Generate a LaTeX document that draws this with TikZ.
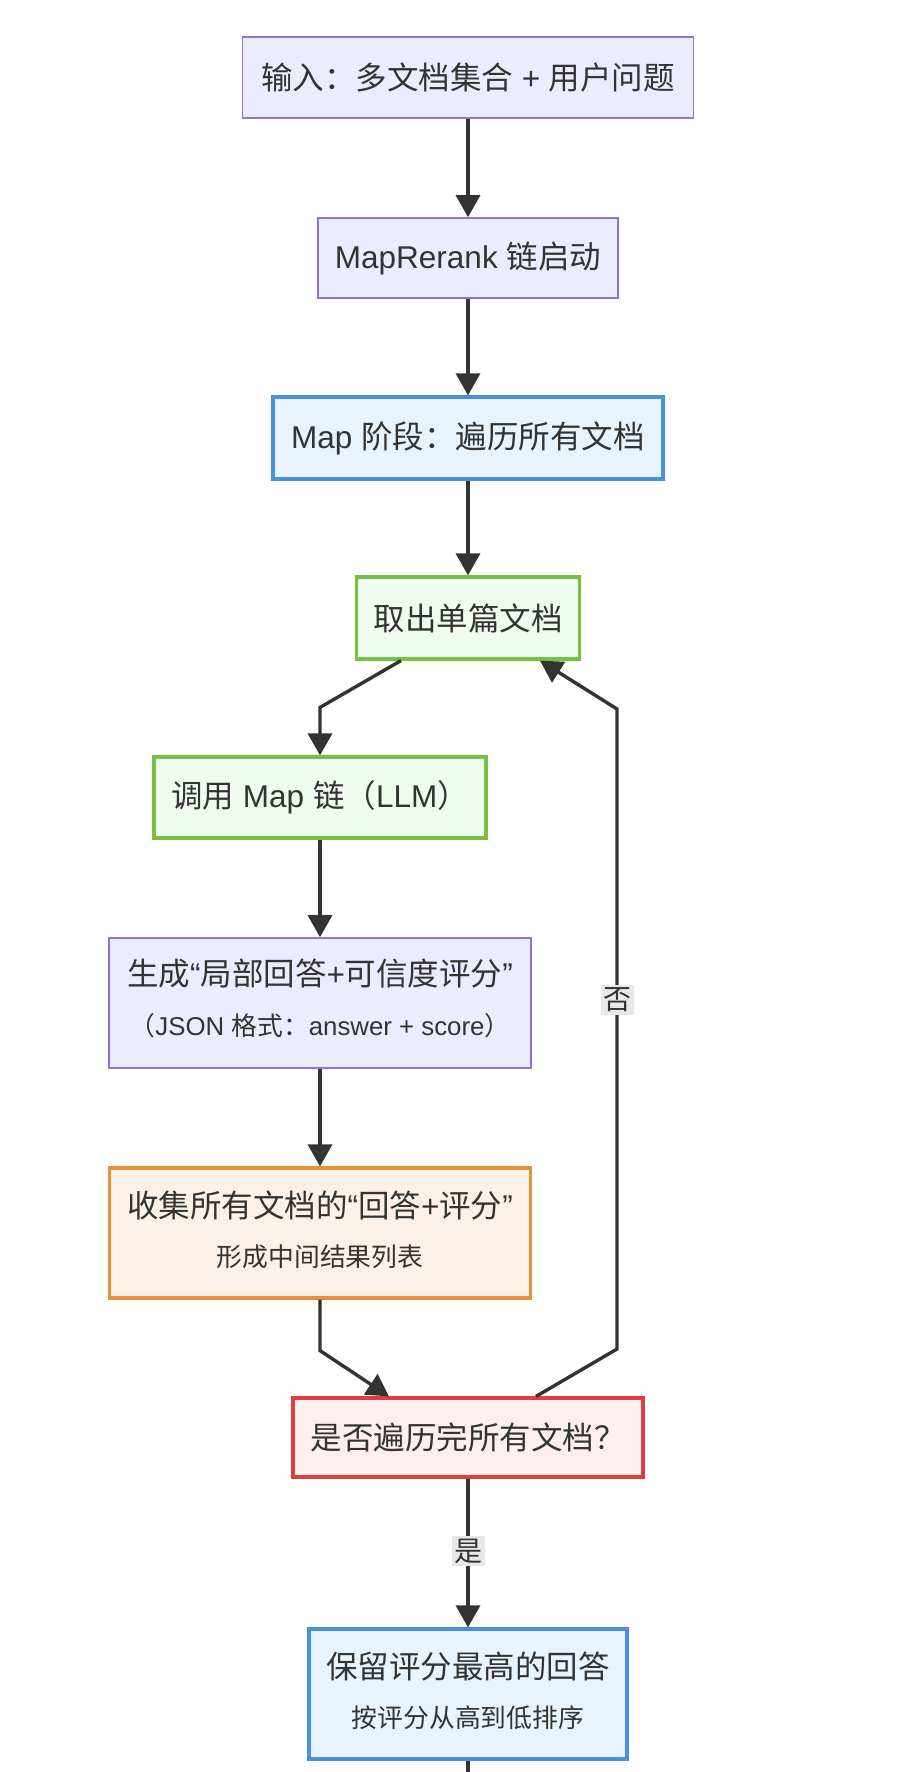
\documentclass[tikz,border=0pt]{standalone}
\usepackage{fontspec}
\setmainfont{Noto Sans CJK SC}
\newfontfamily\lat{Liberation Sans}
\usetikzlibrary{arrows.meta,calc}
\definecolor{txt}{HTML}{333333}
\definecolor{lc}{HTML}{333333}
\definecolor{pfill}{HTML}{ECECFF}
\definecolor{pdraw}{HTML}{9370DB}
\definecolor{bfill}{HTML}{E8F4FD}
\definecolor{bdraw}{HTML}{4A90E2}
\definecolor{gfill}{HTML}{F1FCF1}
\definecolor{gdraw}{HTML}{76C043}
\definecolor{ofill}{HTML}{FCF1E8}
\definecolor{odraw}{HTML}{E8903A}
\definecolor{rfill}{HTML}{FDEFEF}
\definecolor{rdraw}{HTML}{E23C3C}
\definecolor{lblfill}{HTML}{E8E8E8}
\tikzset{
  box/.style={draw, rectangle, inner sep=0pt, text=txt, font=\fontsize{31.5}{38}\selectfont},
  pbox/.style={box, fill=pfill, draw=pdraw, line width=1.6pt},
  bbox/.style={box, fill=bfill, draw=bdraw, line width=3.2pt},
  gbox/.style={box, fill=gfill, draw=gdraw, line width=3.2pt},
  obox/.style={box, fill=ofill, draw=odraw, line width=3.2pt},
  rbox/.style={box, fill=rfill, draw=rdraw, line width=3.2pt},
  tmain/.style={inner sep=0pt, text=txt, font=\fontsize{31.5}{38}\selectfont},
  tsub/.style={inner sep=0pt, text=txt, font=\fontsize{25.8}{31}\selectfont},
  ln/.style={draw=lc, line width=3.4pt},
  arr/.style={ln, -{Triangle[length=22pt,width=24pt]}},
  lbl/.style={fill=lblfill, inner sep=2.5pt, text=txt, font=\fontsize{28}{32}\selectfont}
}
\begin{document}
\begin{tikzpicture}[x=1pt,y=-1pt]
\useasboundingbox (0,0) rectangle (910,1772);
\fill[white] (0,0) rectangle (910,1772);

\node[pbox, minimum width=451pt, minimum height=81pt] (b1) at (468,77.5) {输入：多文档集合{\lat\ +\ }用户问题};
\node[pbox, minimum width=300pt, minimum height=80pt] (b2) at (468,258) {{\lat MapRerank }链启动};
\node[bbox, minimum width=390pt, minimum height=82pt] (b3) at (468,438) {{\lat Map }阶段：遍历所有文档};
\node[gbox, minimum width=223pt, minimum height=82pt] (b4) at (468,618) {取出单篇文档};
\node[gbox, minimum width=332pt, minimum height=81pt] (b5) at (320,797.5) {调用{\lat\ Map\ }链（{\lat LLM}）};

\node[pbox, minimum width=421.5pt, minimum height=130pt] (b6) at (320,1003) {};
\node[tmain] (t6a) at (320,974) {生成{\lat “}局部回答{\lat +}可信度评分{\lat ”}};
\node[tsub] (t6b) at (320,1026) {（{\lat JSON }格式：{\lat answer + score}）};

\node[obox, minimum width=421.5pt, minimum height=130pt] (b7) at (320,1233) {};
\node[tmain] (t7a) at (320,1205) {收集所有文档的{\lat “}回答{\lat +}评分{\lat ”}};
\node[tsub] (t7b) at (320,1257) {形成中间结果列表};

\node[rbox, minimum width=350pt, minimum height=79pt] (b8) at (468,1437.5) {是否遍历完所有文档？};

\node[bbox, minimum width=318pt, minimum height=130pt] (b9) at (468,1694) {};
\node[tmain] (t9a) at (468,1666) {保留评分最高的回答};
\node[tsub] (t9b) at (468,1718) {按评分从高到低排序};

% connectors
\draw[arr] (b1.south) -- (b2.north);
\draw[arr] (b2.south) -- (b3.north);
\draw[arr] (b3.south) -- (b4.north);
\draw[arr] ([xshift=-67pt]b4.south) -- ([yshift=48pt]b5.north) -- (b5.north);
\draw[arr] (b5.south) -- (b6.north);
\draw[arr] (b6.south) -- (b7.north);
\draw[arr] (b7.south) -- ([yshift=-51pt]b7.south) -- ([xshift=-79pt]b8.north);
\coordinate (r1) at (617,1349);
\coordinate (r2) at (617,709);
\draw[arr] ([xshift=68pt]b8.north) -- (r1) -- (r2) -- ([xshift=72pt]b4.south);
\draw[arr] (b8.south) -- (b9.north);
\coordinate (bend) at (468,1790);
\draw[ln] (b9.south) -- (bend);

\node[lbl] (lno) at (617,1000) {否};
\node[lbl] (lyes) at (468,1551) {是};
\end{tikzpicture}
\end{document}
